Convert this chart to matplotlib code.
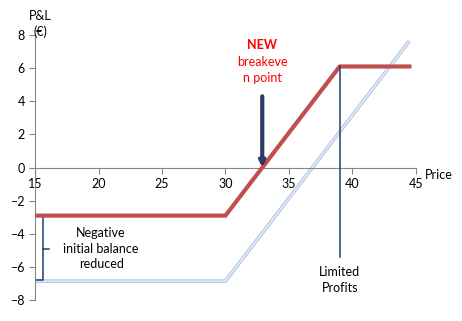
import matplotlib.pyplot as plt

# payoff data
new_price = [15, 30, 39, 44.5]
new_pl = [-2.9, -2.9, 6.1, 6.1]
old_price = [15, 30, 44.5]
old_pl = [-6.85, -6.85, 7.65]
breakeven = 32.9
cap_price = 39
xticks = [15, 20, 25, 30, 35, 40, 45]
yticks = [-8, -6, -4, -2, 0, 2, 4, 6, 8]

plt.rcParams['font.family'] = ['Lato', 'DejaVu Sans']
fs = 9

fig = plt.figure(figsize=(4.62, 3.21), dpi=100)
ax = fig.add_axes([0.076, 0.065, 0.824, 0.826])

# old payoff: light blue outlined line
ax.plot(old_price, old_pl, color='#b3c8e3', lw=2.6, solid_capstyle='butt', zorder=2)
ax.plot(old_price, old_pl, color='#eef3fa', lw=0.9, solid_capstyle='butt', zorder=2)
# new payoff
ax.plot(new_price, new_pl, color='#c0504d', lw=3, zorder=3)

# limited profits marker
ax.plot([cap_price, cap_price], [new_pl[-1], -5.4], color='#1f3f6e', lw=1.1, zorder=4)
ax.text(cap_price, -6.8, 'Limited\nProfits', ha='center', va='center', fontsize=fs,
        linespacing=1.4)

# breakeven arrow
ax.annotate('', xy=(breakeven, 0), xytext=(breakeven, 4.3),
            arrowprops=dict(arrowstyle='-|>', color='#2b3a63', lw=3,
                            mutation_scale=8, shrinkA=0, shrinkB=0), zorder=5)
ax.text(breakeven, 7.4, 'NEW', ha='center', va='center', fontsize=fs,
        fontweight='bold', color='#ff0000')
ax.text(breakeven, 5.9, 'breakeve\nn point', ha='center', va='center', fontsize=fs,
        color='#ff0000', linespacing=1.35)

# brace between the two flat levels
bx = 15.6
ax.plot([bx - 0.45, bx, bx, bx - 0.45], [-2.95, -2.95, -6.8, -6.8], color='#1f3f6e', lw=1.1)
ax.plot([bx, bx + 0.5], [-4.9, -4.9], color='#1f3f6e', lw=1.1)
ax.text(20.2, -4.9, 'Negative\ninitial balance\nreduced', ha='center', va='center',
        fontsize=fs, linespacing=1.35)

ax.set_xlim(15, 45)
ax.set_ylim(-8, 8)
ax.set_xticks(xticks)
ax.set_yticks(yticks)
ax.spines['bottom'].set_position(('data', 0))
ax.spines['top'].set_visible(False)
ax.spines['right'].set_visible(False)
for s in ['left', 'bottom']:
    ax.spines[s].set_color('#868686')
ax.tick_params(colors='#868686', labelcolor='black', labelsize=fs, length=4)

ax.text(45.7, -0.45, 'Price', ha='left', va='center', fontsize=fs)
ax.text(15.4, 7.8, 'P&L\n(€)', ha='center', va='bottom', fontsize=fs, linespacing=1.35)

fig.savefig('out.png', dpi=100)
